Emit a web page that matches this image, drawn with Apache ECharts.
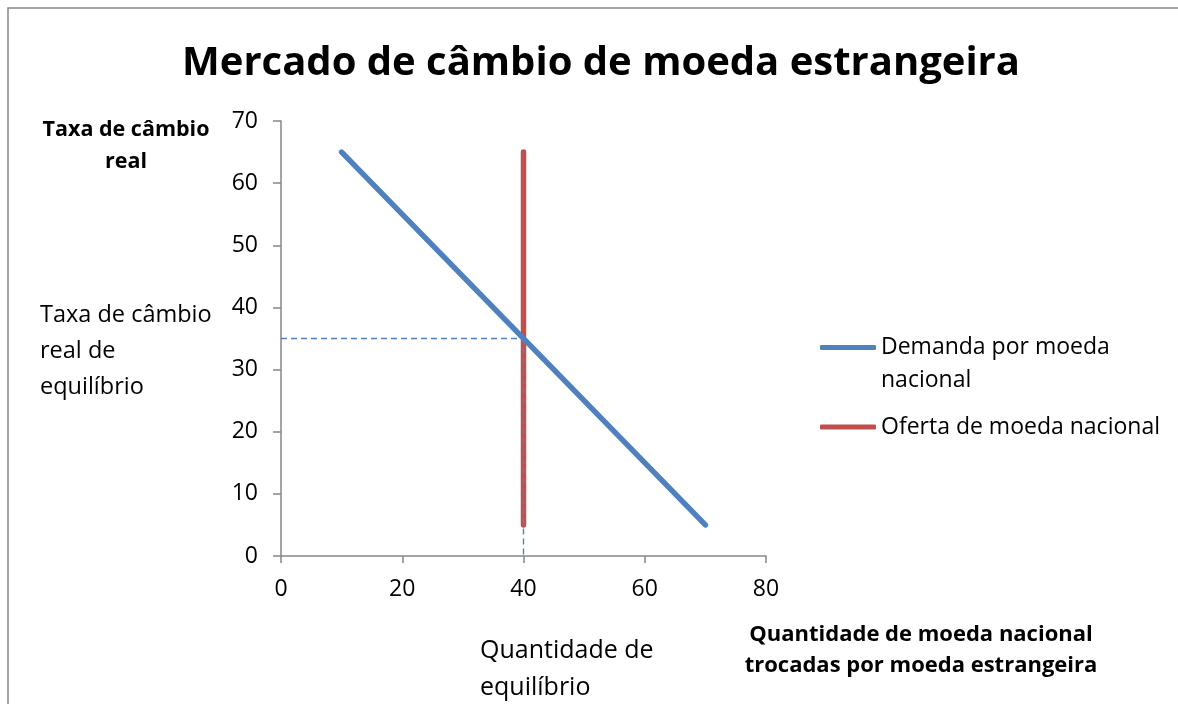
<!DOCTYPE html>
<html>
<head>
<meta charset="utf-8">
<script src="https://cdn.jsdelivr.net/npm/echarts@6/dist/echarts.min.js"></script>
<style>
html,body{margin:0;padding:0;background:#fff;}
#chart{width:1178px;height:704px;}
</style>
</head>
<body>
<div id="chart"></div>
<script>
const titleText = 'Mercado de câmbio de moeda estrangeira';
const xTicks = [0, 20, 40, 60, 80];
const yTicks = [0, 10, 20, 30, 40, 50, 60, 70];
const demandName = 'Demanda por moeda nacional';
const supplyName = 'Oferta de moeda nacional';
const demandData = [[10, 65], [70, 5]];
const supplyData = [[40, 65], [40, 5]];
const eqHorizontal = [[0, 35], [40, 35]];
const eqVertical = [[40, 35], [40, 0]];

const FONT = 'Open Sans';
const chart = echarts.init(document.getElementById('chart'));
chart.setOption({
  backgroundColor: '#fff',
  animation: false,
  textStyle: { fontFamily: FONT },
  title: {
    text: titleText,
    left: 596, top: 39, textAlign: 'center',
    textStyle: { fontFamily: FONT, fontWeight: 'bold', fontSize: 40, color: '#000' }
  },
  grid: { left: 281, top: 121, width: 485, height: 435 },
  xAxis: {
    type: 'value', min: 0, max: 80, interval: 20,
    axisLine: { show: true, lineStyle: { color: '#868686', width: 1.5 } },
    axisTick: { show: true, length: 7, lineStyle: { color: '#868686', width: 1.5 } },
    axisLabel: { fontSize: 23, color: '#000', margin: 22, fontFamily: FONT },
    splitLine: { show: false }
  },
  yAxis: {
    type: 'value', min: 0, max: 70, interval: 10,
    axisLine: { show: true, lineStyle: { color: '#868686', width: 1.5 } },
    axisTick: { show: true, length: 8, lineStyle: { color: '#868686', width: 1.5 } },
    axisLabel: { fontSize: 23, color: '#000', margin: 23, fontFamily: FONT },
    splitLine: { show: false }
  },
  legend: [
    {
      data: [demandName], left: 820, top: 303, padding: 0,
      itemWidth: 56, itemHeight: 5, icon: 'roundRect', itemGap: 4,
      formatter: function () { return '{e| }\n{t|Demanda por moeda}\n{t|nacional}'; },
      textStyle: { rich: {
        e: { fontSize: 23, lineHeight: 33 },
        t: { fontSize: 23, lineHeight: 33, color: '#000', fontFamily: FONT }
      } }
    },
    {
      data: [supplyName], left: 820, top: 410.5, padding: 0,
      itemWidth: 56, itemHeight: 5, icon: 'roundRect', itemGap: 4,
      textStyle: { fontSize: 23, lineHeight: 33, color: '#000', fontFamily: FONT }
    }
  ],
  series: [
    { name: demandName, type: 'line', data: demandData, symbol: 'none',
      lineStyle: { color: '#4F81BD', width: 5.5, cap: 'round' }, itemStyle: { color: '#4F81BD' }, z: 3 },
    { name: supplyName, type: 'line', data: supplyData, symbol: 'none',
      lineStyle: { color: '#C0504D', width: 5.5, cap: 'round' }, itemStyle: { color: '#C0504D' }, z: 2 },
    { name: 'eqH', type: 'line', data: eqHorizontal, symbol: 'none',
      lineStyle: { color: '#4F81BD', width: 1.4, type: [6, 4] }, z: 4 },
    { name: 'eqV', type: 'line', data: eqVertical, symbol: 'none',
      lineStyle: { color: '#4F81BD', width: 1.4, type: [6, 4] }, z: 4 }
  ],
  graphic: [
    { type: 'rect', shape: { x: 8, y: 8, width: 1200, height: 800 }, silent: true,
      style: { fill: 'none', stroke: '#868686', lineWidth: 1.5 }, z: -10 },
    { type: 'text', x: 126, y: 146, style: {
      text: 'Taxa de câmbio\nreal', fontFamily: FONT, fontWeight: 'bold', fontSize: 21.5,
      lineHeight: 32, align: 'center', verticalAlign: 'middle', fill: '#000' } },
    { type: 'text', x: 40, y: 351, style: {
      text: 'Taxa de câmbio\nreal de\nequilíbrio', fontFamily: FONT, fontSize: 23.5,
      lineHeight: 36, verticalAlign: 'middle', fill: '#000' } },
    { type: 'text', x: 480, y: 669, style: {
      text: 'Quantidade de\nequilíbrio', fontFamily: FONT, fontSize: 25,
      lineHeight: 37, verticalAlign: 'middle', fill: '#000' } },
    { type: 'text', x: 921, y: 650, style: {
      text: 'Quantidade de moeda nacional\ntrocadas por moeda estrangeira', fontFamily: FONT,
      fontWeight: 'bold', fontSize: 22, lineHeight: 31, align: 'center', verticalAlign: 'middle', fill: '#000' } }
  ]
});
</script>
</body>
</html>
